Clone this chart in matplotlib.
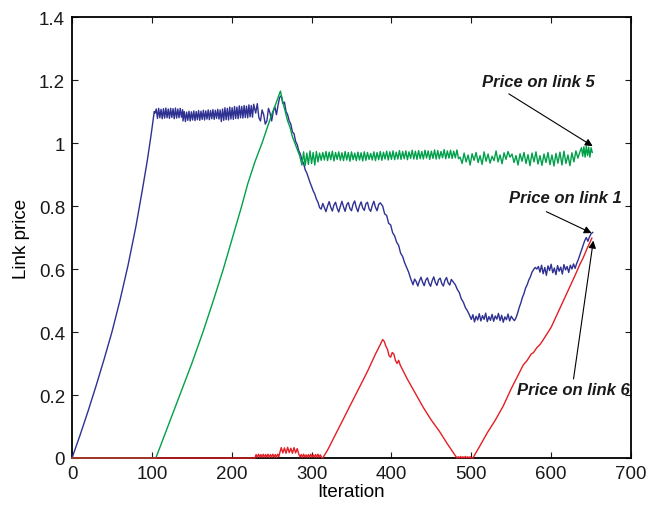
import numpy as np
import matplotlib
matplotlib.use("Agg")
import matplotlib.pyplot as plt

plt.rcParams['font.family'] = ['Liberation Sans', 'DejaVu Sans']

# ---- data: (iteration, price) knots and zigzag blocks ----
# zigzag blocks are (first iteration, iteration step, values)

blue_rise_x = [0, 10, 20, 30, 40, 50, 60, 70, 80, 88, 94, 99, 103]
blue_rise_y = [0, 0.072, 0.148, 0.228, 0.312, 0.40, 0.50, 0.61, 0.735, 0.85, 0.94, 1.025, 1.1]
blue_blocks = [
    (104, 1.5, [1.095, 1.108, 1.078, 1.110, 1.080, 1.107, 1.077, 1.109, 1.079, 1.111, 1.080, 1.108,
                1.078, 1.110, 1.081, 1.109, 1.077, 1.111, 1.079, 1.108, 1.080, 1.110, 1.082, 1.106]),
    (139, 1.5, [1.070, 1.100, 1.068, 1.098, 1.072, 1.101, 1.070, 1.099, 1.073, 1.102, 1.071, 1.100,
                1.074, 1.103, 1.072, 1.101, 1.075, 1.104, 1.073, 1.102, 1.076, 1.105, 1.074, 1.103,
                1.077, 1.106, 1.075, 1.104, 1.078, 1.107, 1.076, 1.105]),
    (187, 1.5, [1.068, 1.108, 1.072, 1.112, 1.074, 1.110, 1.073, 1.114, 1.076, 1.112, 1.075, 1.116,
                1.078, 1.114, 1.077, 1.118, 1.080, 1.116, 1.079, 1.119, 1.081, 1.117, 1.080, 1.121,
                1.083, 1.119, 1.082, 1.123]),
    (230, 2, [1.095, 1.125, 1.080, 1.070, 1.105, 1.090, 1.060, 1.070, 1.110, 1.095, 1.070, 1.100,
              1.115, 1.090, 1.120, 1.145]),
    (262, 2, [1.150, 1.125, 1.130, 1.100, 1.090, 1.070, 1.060, 1.035, 1.030, 1.005, 0.995, 0.975,
              0.965, 0.945, 0.935, 0.915, 0.905, 0.890, 0.875, 0.862, 0.848, 0.838, 0.822, 0.812,
              0.795]),
    (312, 2, [0.790, 0.808, 0.795, 0.782, 0.800, 0.814, 0.796, 0.784, 0.803, 0.812, 0.793, 0.781,
              0.799, 0.815, 0.797, 0.783, 0.804, 0.811, 0.792, 0.785, 0.806, 0.816, 0.795, 0.782,
              0.801, 0.813, 0.794, 0.786, 0.807, 0.812, 0.791, 0.783, 0.802, 0.815, 0.796, 0.785,
              0.805, 0.810]),
    (389, 2.5, [0.800, 0.775, 0.770, 0.745, 0.740, 0.715, 0.705, 0.685, 0.675, 0.650, 0.640, 0.620,
                0.605, 0.590, 0.570]),
    (427, 2, [0.550, 0.568, 0.560, 0.546, 0.562, 0.574, 0.558, 0.547, 0.565, 0.572, 0.555, 0.545,
              0.563, 0.575, 0.557, 0.548, 0.566, 0.571, 0.554, 0.546, 0.564, 0.573, 0.556, 0.549,
              0.567, 0.560]),
    (480, 2.5, [0.550, 0.535, 0.525, 0.505, 0.495, 0.478, 0.468, 0.455]),
    (500, 2, [0.440, 0.455, 0.432, 0.450, 0.438, 0.458, 0.435, 0.452, 0.440, 0.460, 0.433, 0.449,
              0.437, 0.456, 0.434, 0.451, 0.441, 0.459, 0.436, 0.453, 0.431, 0.448, 0.439, 0.457,
              0.435, 0.450, 0.442, 0.436]),
    (556, 2, [0.445, 0.460, 0.478, 0.492, 0.510, 0.522, 0.540, 0.550, 0.565, 0.575, 0.590, 0.598,
              0.605, 0.600, 0.608]),
    (586, 2, [0.590, 0.612, 0.585, 0.605, 0.580, 0.610, 0.595, 0.615, 0.588, 0.603, 0.582, 0.611,
              0.593, 0.606, 0.584, 0.614, 0.597, 0.608, 0.589, 0.612, 0.600, 0.616, 0.602, 0.618]),
    (634, 2, [0.630, 0.645, 0.660, 0.675, 0.690, 0.700, 0.688, 0.702, 0.712, 0.716]),
]

green_rise_x = [0, 105, 120, 135, 150, 164, 177, 189.5, 201, 212.5, 220, 229, 238, 244, 250,
                256, 261, 264, 267, 270, 273, 276, 279, 282, 285]
green_rise_y = [0, 0, 0.1, 0.2, 0.3, 0.4, 0.5, 0.6, 0.7, 0.8, 0.87, 0.94, 1.0, 1.045, 1.09,
                1.13, 1.165, 1.13, 1.10, 1.07, 1.05, 1.02, 1.0, 0.98, 0.96]
green_blocks = [
    (286, 2, [0.950, 0.930, 0.972, 0.928, 0.968, 0.932, 0.975, 0.935, 0.970, 0.930, 0.973, 0.940,
              0.968, 0.945, 0.970]),
    (316, 2, [0.946, 0.973, 0.944, 0.971, 0.947, 0.974, 0.943, 0.970, 0.948, 0.972,
              0.945, 0.969, 0.944, 0.973, 0.946, 0.970, 0.942, 0.972, 0.947, 0.968,
              0.944, 0.971, 0.946, 0.969, 0.943, 0.972, 0.945, 0.970, 0.948, 0.967,
              0.946, 0.972, 0.944, 0.970, 0.947, 0.973, 0.945, 0.971, 0.949, 0.974,
              0.946, 0.972, 0.948, 0.975, 0.947, 0.971, 0.949, 0.976, 0.948, 0.973,
              0.950, 0.975, 0.947, 0.972, 0.951, 0.977, 0.949, 0.974, 0.948, 0.976,
              0.950, 0.973, 0.949, 0.977, 0.952, 0.975, 0.948, 0.974, 0.951, 0.978,
              0.949, 0.976, 0.950, 0.973, 0.953, 0.979, 0.950, 0.975, 0.952, 0.977,
              0.951, 0.974, 0.953, 0.978, 0.950]),
    (486, 2.5, [0.955, 0.935, 0.968, 0.940, 0.962, 0.930, 0.966, 0.945, 0.970, 0.938,
                0.960, 0.932, 0.972, 0.942, 0.965, 0.936, 0.958, 0.944, 0.975, 0.940,
                0.962, 0.934, 0.969, 0.948, 0.973, 0.955, 0.965, 0.938, 0.960, 0.930,
                0.966, 0.942, 0.970, 0.935, 0.963, 0.928, 0.968, 0.940, 0.972, 0.933,
                0.960, 0.929, 0.965, 0.938, 0.970, 0.931, 0.962, 0.927, 0.967, 0.936,
                0.971, 0.930, 0.974, 0.935, 0.962, 0.928, 0.969, 0.940, 0.975, 0.952, 0.972]),
    (638, 1.5, [0.985, 0.958, 0.988, 0.955, 0.990, 0.960, 0.987, 0.955, 0.985, 0.970]),
]

red_blocks = [
    (0, 229, [0.0, 0.0]),
    (229, 1.5, [0.0, 0.011, 0.002, 0.012, 0.003, 0.011, 0.002, 0.012, 0.002, 0.011, 0.003, 0.012,
                0.002, 0.011, 0.003, 0.012, 0.002, 0.011, 0.002, 0.012, 0.004]),
    (260, 2, [0.015, 0.033, 0.016, 0.032, 0.015, 0.034, 0.017, 0.031, 0.015, 0.033, 0.016, 0.030]),
    (284, 1.5, [0.012, 0.003, 0.011, 0.002, 0.012, 0.003, 0.010, 0.002, 0.011, 0.003, 0.012, 0.002,
                0.010, 0.003, 0.011, 0.002, 0.012, 0.003, 0.010, 0.002, 0.0]),
]
red_mid_x = [320, 330, 340, 350, 360, 370, 380, 386, 389, 391, 393, 395, 397, 399, 401, 403, 405,
             407, 409, 411, 420, 430, 440, 450, 460, 470, 482]
red_mid_y = [0.025, 0.075, 0.125, 0.175, 0.225, 0.275, 0.33, 0.36, 0.376, 0.37, 0.355, 0.345,
             0.325, 0.32, 0.335, 0.33, 0.31, 0.30, 0.31, 0.295, 0.25, 0.205, 0.16, 0.12, 0.085,
             0.045, 0.0]
red_flat = (483.5, 1.5, [0.004, 0.0, 0.005, 0.0, 0.004, 0.0, 0.005, 0.0, 0.004, 0.0, 0.004, 0.0])
red_end_x = [502, 510, 520, 530, 540, 550, 558, 565, 570, 575, 578, 582, 586, 590, 595, 600, 610,
             620, 630, 636, 640, 645, 651]
red_end_y = [0, 0.035, 0.08, 0.12, 0.165, 0.22, 0.26, 0.295, 0.31, 0.33, 0.335, 0.35, 0.36, 0.375,
             0.395, 0.415, 0.47, 0.525, 0.58, 0.615, 0.635, 0.665, 0.698]

labels = ["Price on link 5", "Price on link 1", "Price on link 6"]
label_xy = [(583.5, 1.195), (618, 0.827), (627.4, 0.219)]
arrow_from = [(547, 1.156), (594, 0.782), (628, 0.251)]
arrow_to = [(652, 0.99), (650.7, 0.714), (652.8, 0.69)]


def block(start, step, vals):
    return start + step * np.arange(len(vals)), np.array(vals)


def join(parts):
    xs = np.concatenate([p[0] for p in parts])
    ys = np.concatenate([p[1] for p in parts])
    return xs, ys


blue_x, blue_y = join([(np.array(blue_rise_x), np.array(blue_rise_y))] +
                      [block(*b) for b in blue_blocks])
green_x, green_y = join([(np.array(green_rise_x), np.array(green_rise_y))] +
                        [block(*b) for b in green_blocks])
red_x, red_y = join([block(*b) for b in red_blocks] +
                    [(np.array(red_mid_x), np.array(red_mid_y)), block(*red_flat),
                     (np.array(red_end_x), np.array(red_end_y))])

fig = plt.figure(figsize=(6.47, 5.10), dpi=100)
ax = fig.add_axes([0.1113, 0.1, 0.864, 0.8647])

ax.plot(blue_x, blue_y, color='#2e3192', lw=1.0, zorder=3, clip_on=False)
ax.plot(green_x, green_y, color='#00a04a', lw=1.0, zorder=3, clip_on=False)
ax.plot(red_x, red_y, color='#e31e24', lw=1.0, zorder=3, clip_on=False)

for txt, pos in zip(labels, label_xy):
    ax.text(pos[0], pos[1], txt, ha='center', va='center', fontsize=12,
            fontweight='bold', fontstyle='italic', color='#1a1a1a')
for p0, p1 in zip(arrow_from, arrow_to):
    ax.annotate('', xy=p1, xytext=p0,
                arrowprops=dict(arrowstyle='-|>', color='k', lw=0.8,
                                mutation_scale=11, shrinkA=0, shrinkB=0))

ax.set_xlim(0, 700)
ax.set_ylim(0, 1.4)
ax.set_xticks(range(0, 701, 100))
ax.set_yticks([0, 0.2, 0.4, 0.6, 0.8, 1, 1.2, 1.4])
ax.set_yticklabels(['0', '0.2', '0.4', '0.6', '0.8', '1', '1.2', '1.4'])
ax.tick_params(direction='in', top=True, right=True, length=4, width=0.8,
               labelsize=13.5, pad=5, colors='#1a1a1a')
for s in ax.spines.values():
    s.set_linewidth(1.3)
ax.set_xlabel("Iteration", fontsize=13.5, labelpad=1)
ax.set_ylabel("Link price", fontsize=13.5, labelpad=6)

fig.savefig("out.png", dpi=100)
